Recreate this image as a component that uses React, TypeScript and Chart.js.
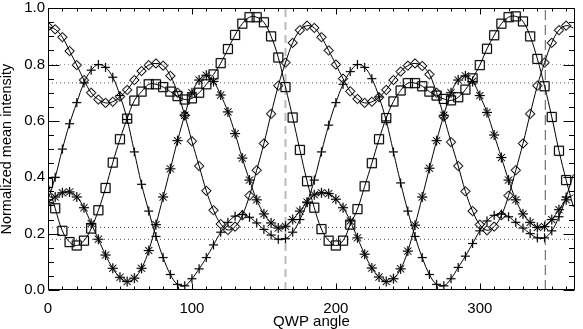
import React, { useEffect, useRef } from 'react';
import { Chart, registerables } from 'chart.js';
Chart.register(...registerables);

// QWP angle samples (degrees); the last one (365) only extends the line to the frame
const angles = [
  0, 5, 10, 15, 20, 25, 30, 35, 40, 45, 50, 55, 60, 65, 70, 75, 80, 85, 90, 95,
  100, 105, 110, 115, 120, 125, 130, 135, 140, 145, 150, 155, 160, 165, 170, 175,
  180, 185, 190, 195, 200, 205, 210, 215, 220, 225, 230, 235, 240, 245, 250, 255,
  260, 265, 270, 275, 280, 285, 290, 295, 300, 305, 310, 315, 320, 325, 330, 335,
  340, 345, 350, 355, 360, 365,
];

const plusVals = [
  0.32, 0.40, 0.50, 0.59, 0.665, 0.735, 0.78, 0.80, 0.79, 0.755,
  0.69, 0.605, 0.49, 0.375, 0.28, 0.19, 0.115, 0.055, 0.02, 0.015,
  0.04, 0.075, 0.115, 0.16, 0.205, 0.24, 0.262, 0.268, 0.258, 0.238,
  0.215, 0.195, 0.18, 0.182, 0.205, 0.25,
  0.31, 0.39, 0.49, 0.585, 0.665, 0.73, 0.775, 0.80, 0.79, 0.75,
  0.685, 0.60, 0.49, 0.38, 0.28, 0.19, 0.115, 0.055, 0.02, 0.015,
  0.04, 0.08, 0.12, 0.165, 0.21, 0.245, 0.265, 0.27, 0.26, 0.24,
  0.22, 0.20, 0.185, 0.185, 0.21, 0.26, 0.33,
  0.41,
];

const starVals = [
  0.31, 0.33, 0.345, 0.348, 0.33, 0.292, 0.236, 0.18, 0.124, 0.077,
  0.045, 0.03, 0.042, 0.077, 0.14, 0.232, 0.33, 0.43, 0.53, 0.62,
  0.70, 0.745, 0.762, 0.74, 0.692, 0.632, 0.555, 0.468, 0.39, 0.32,
  0.27, 0.238, 0.22, 0.226, 0.25, 0.28,
  0.312, 0.338, 0.345, 0.342, 0.322, 0.292, 0.245, 0.185, 0.127, 0.078,
  0.046, 0.03, 0.04, 0.075, 0.138, 0.23, 0.33, 0.432, 0.53, 0.62,
  0.70, 0.745, 0.76, 0.74, 0.69, 0.63, 0.55, 0.47, 0.39, 0.32,
  0.27, 0.24, 0.222, 0.225, 0.25, 0.285, 0.32,
  0.338,
];

const squareVals = [
  0.38, 0.29, 0.21, 0.17, 0.158, 0.175, 0.218, 0.283, 0.362, 0.452,
  0.535, 0.608, 0.672, 0.704, 0.73, 0.73, 0.72, 0.704, 0.688, 0.676,
  0.68, 0.70, 0.73, 0.765, 0.805, 0.855, 0.905, 0.945, 0.968, 0.968,
  0.95, 0.90, 0.825, 0.72, 0.612, 0.497,
  0.386, 0.292, 0.216, 0.175, 0.158, 0.175, 0.232, 0.287, 0.368, 0.45,
  0.535, 0.61, 0.669, 0.708, 0.734, 0.734, 0.723, 0.704, 0.69, 0.678,
  0.673, 0.684, 0.711, 0.751, 0.798, 0.856, 0.904, 0.945, 0.968, 0.971,
  0.953, 0.90, 0.82, 0.723, 0.614, 0.494, 0.39,
  0.295,
];

const diamondVals = [
  0.935, 0.925, 0.897, 0.848, 0.798, 0.745, 0.70, 0.676, 0.664, 0.668,
  0.686, 0.71, 0.745, 0.777, 0.798, 0.804, 0.796, 0.76, 0.70, 0.62,
  0.528, 0.44, 0.352, 0.283, 0.234, 0.213, 0.225, 0.265, 0.335, 0.425,
  0.52, 0.625, 0.725, 0.807, 0.877, 0.922,
  0.938, 0.93, 0.897, 0.85, 0.80, 0.75, 0.705, 0.678, 0.664, 0.668,
  0.684, 0.71, 0.745, 0.775, 0.796, 0.804, 0.795, 0.765, 0.70, 0.615,
  0.525, 0.44, 0.35, 0.28, 0.232, 0.212, 0.225, 0.265, 0.335, 0.425,
  0.52, 0.625, 0.725, 0.807, 0.877, 0.922, 0.938,
  0.93,
];

// reference lines
const hLineVals = [0.80, 0.735, 0.222, 0.18];
const hLineColors = ['#999999', '#555555', '#555555', '#555555'];
const vLineVals = [165, 345.5];
const vLineColors = ['#bbbbbb', '#555555'];

const xTickVals = [0, 100, 200, 300];
const yTickVals = [0, 0.2, 0.4, 0.6, 0.8, 1.0];
const X_MIN = 0;
const X_MAX = 366;
const Y_MIN = 0;
const Y_MAX = 1;
const LAST_MARKED = 360;

const FONT = 'Liberation Sans, Arial, Helvetica, sans-serif';

const framePlugin = {
  id: 'idlFrame',
  afterDatasetsDraw(chart: any) {
    const { ctx, chartArea, scales } = chart;
    const { left, right, top, bottom } = chartArea;
    const xs = scales.x;
    const ys = scales.y;
    ctx.save();
    ctx.strokeStyle = '#000';
    ctx.lineWidth = 1;
    const L = Math.round(left) + 0.5;
    const R = Math.round(right) - 0.5;
    const T = Math.round(top) + 0.5;
    const B = Math.round(bottom) - 0.5;
    ctx.beginPath();
    ctx.rect(L, T, R - L, B - T);
    ctx.stroke();
    ctx.beginPath();
    for (let v = X_MIN; v <= X_MAX; v += 10) {
      const px = Math.round(xs.getPixelForValue(v)) + 0.5;
      const len = v % 100 === 0 ? 6 : 3;
      ctx.moveTo(px, B);
      ctx.lineTo(px, B - len);
      ctx.moveTo(px, T);
      ctx.lineTo(px, T + len);
    }
    for (let i = 0; i <= 20; i++) {
      const v = i * 0.05;
      const py = Math.round(ys.getPixelForValue(v)) + 0.5;
      const len = i % 4 === 0 ? 11 : 5.5;
      ctx.moveTo(L, py);
      ctx.lineTo(L + len, py);
      ctx.moveTo(R, py);
      ctx.lineTo(R - len, py);
    }
    ctx.stroke();
    ctx.restore();
  },
};

function pts(vals: number[]) {
  return angles.map((a, i) => ({ x: a, y: vals[i] }));
}

export default function App() {
  const ref = useRef<HTMLCanvasElement | null>(null);

  useEffect(() => {
    if (!ref.current) return;
    const radiusFor = (r: number) => angles.map((a) => (a > LAST_MARKED ? 0 : r));

    const series = [
      { vals: plusVals, style: 'cross', r: 4.5 },
      { vals: starVals, style: 'star', r: 5 },
      { vals: squareVals, style: 'rect', r: 6.4 },
      { vals: diamondVals, style: 'rectRot', r: 4.6 },
    ];

    // Chart.js paints dataset 0 last (on top): black series first, grey copies next, reference lines last
    const datasets: any[] = [];
    series.forEach((s) => {
      datasets.push({
        data: pts(s.vals),
        showLine: true,
        borderColor: '#000',
        borderWidth: 1,
        tension: 0.4,
        pointStyle: s.style,
        pointRadius: radiusFor(s.r),
        pointBorderColor: '#000',
        pointBackgroundColor: 'rgba(0,0,0,0)',
        pointBorderWidth: 1,
      });
    });
    series.forEach((s) => {
      datasets.push({
        data: pts(s.vals),
        showLine: false,
        pointStyle: s.style,
        pointRadius: radiusFor(s.r),
        pointBorderColor: '#c4c4c4',
        pointBackgroundColor: 'rgba(0,0,0,0)',
        pointBorderWidth: 1.8,
      });
    });
    hLineVals.forEach((v, i) => {
      datasets.push({
        data: [{ x: X_MIN, y: v }, { x: X_MAX, y: v }],
        showLine: true,
        borderColor: hLineColors[i],
        borderWidth: 1,
        borderDash: [1, 3],
        pointRadius: 0,
      });
    });
    vLineVals.forEach((v, i) => {
      datasets.push({
        data: [{ x: v, y: Y_MIN }, { x: v, y: Y_MAX }],
        showLine: true,
        borderColor: vLineColors[i],
        borderWidth: i === 0 ? 2 : 1,
        borderDash: i === 0 ? [8, 5] : [10, 5],
        pointRadius: 0,
      });
    });

    const chart = new Chart(ref.current, {
      type: 'scatter',
      data: { datasets },
      options: {
        responsive: false,
        animation: false,
        devicePixelRatio: 1,
        layout: { padding: { left: 0, right: 1, top: 5, bottom: 0 } },
        plugins: { legend: { display: false }, tooltip: { enabled: false } },
        elements: { line: { borderCapStyle: 'butt' } },
        scales: {
          x: {
            type: 'linear',
            min: X_MIN,
            max: X_MAX,
            grid: { display: false, drawTicks: false },
            border: { display: false },
            afterBuildTicks: (scale: any) => {
              scale.ticks = xTickVals.map((v) => ({ value: v }));
            },
            afterFit: (scale: any) => {
              scale.height = 39;
              scale.paddingLeft = 0;
              scale.paddingRight = 0;
            },
            ticks: {
              color: '#000',
              font: { family: FONT, size: 15 },
              padding: 10,
              maxRotation: 0,
              callback: (v: any) => String(v),
            },
            title: {
              display: true,
              text: 'QWP angle',
              color: '#000',
              font: { family: FONT, size: 15, lineHeight: 1 },
              padding: { top: 0, bottom: 0 },
            },
          },
          y: {
            type: 'linear',
            min: Y_MIN,
            max: Y_MAX,
            grid: { display: false, drawTicks: false },
            border: { display: false },
            afterBuildTicks: (scale: any) => {
              scale.ticks = yTickVals.map((v) => ({ value: v }));
            },
            afterFit: (scale: any) => {
              scale.width = 48;
              scale.paddingTop = 0;
              scale.paddingBottom = 0;
            },
            ticks: {
              color: '#000',
              font: { family: FONT, size: 15 },
              padding: 3,
              callback: (v: any) => Number(v).toFixed(1),
            },
            title: {
              display: true,
              text: 'Normalized mean intensity',
              color: '#000',
              font: { family: FONT, size: 14.5, lineHeight: 1 },
              padding: { top: 0, bottom: 0 },
            },
          },
        },
      },
      plugins: [framePlugin],
    } as any);
    return () => chart.destroy();
  }, []);

  return (
    <div style={{ position: 'absolute', left: 0, top: 0, width: 583, height: 329, background: '#fff' }}>
      <canvas ref={ref} width={583} height={329} style={{ display: 'block' }} />
    </div>
  );
}
